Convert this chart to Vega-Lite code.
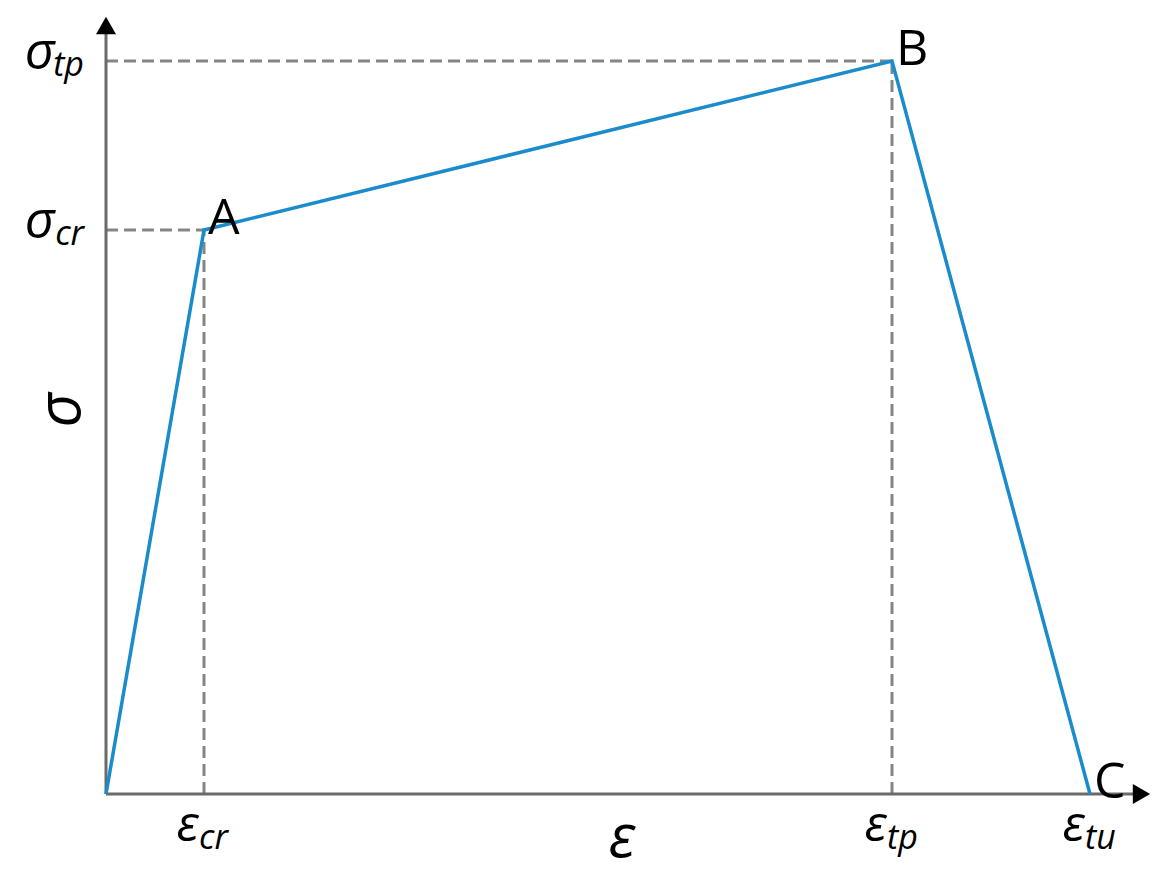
{
  "$schema": "https://vega.github.io/schema/vega-lite/v6.json",
  "autosize": {"type": "none"},
  "width": 1044,
  "height": 777,
  "padding": {"left": 106, "top": 17, "right": 12, "bottom": 83},
  "background": "white",
  "config": {"view": {"stroke": null}},
  "datasets": {
    "curve": [
      {"x": 0, "y": 0, "order": 0},
      {"x": 98, "y": 564, "order": 1},
      {"x": 786, "y": 733, "order": 2},
      {"x": 984, "y": 0, "order": 3}
    ],
    "guides": [
      {"x": 0, "x2": 98, "y": 564, "y2": 564},
      {"x": 98, "x2": 98, "y": 0, "y2": 564},
      {"x": 0, "x2": 786, "y": 733, "y2": 733},
      {"x": 786, "x2": 786, "y": 0, "y2": 733}
    ],
    "axes": [
      {"x": 0, "x2": 1032, "y": 0, "y2": 0},
      {"x": 0, "x2": 0, "y": 0, "y2": 760}
    ],
    "arrows": [
      {"x": 1035.5, "y": 0, "shape": "triangle-right"},
      {"x": 0, "y": 768.5, "shape": "triangle-up"}
    ],
    "points": [
      {"x": 98, "y": 564, "name": "A"},
      {"x": 786, "y": 733, "name": "B"},
      {"x": 984, "y": 0, "name": "C"}
    ],
    "yticks": [
      {"x": 0, "y": 733, "main": "σ", "sub": "tp"},
      {"x": 0, "y": 564, "main": "σ", "sub": "cr"}
    ],
    "xticks": [
      {"x": 98, "y": 0, "main": "ε", "sub": "cr"},
      {"x": 786, "y": 0, "main": "ε", "sub": "tp"},
      {"x": 984, "y": 0, "main": "ε", "sub": "tu"}
    ],
    "titles": [
      {"x": -44, "y": 384, "text": "σ", "angle": 270},
      {"x": 516, "y": -45, "text": "ε", "angle": 0}
    ]
  },
  "encoding": {
    "x": {"field": "x", "type": "quantitative", "scale": {"domain": [0, 1044], "nice": false, "zero": false}, "axis": null},
    "y": {"field": "y", "type": "quantitative", "scale": {"domain": [0, 777], "nice": false, "zero": false}, "axis": null}
  },
  "layer": [
    {
      "data": {"name": "guides"},
      "mark": {"type": "rule", "color": "#858585", "strokeWidth": 3, "strokeDash": [12, 6], "clip": false},
      "encoding": {"x2": {"field": "x2"}, "y2": {"field": "y2"}}
    },
    {
      "data": {"name": "axes"},
      "mark": {"type": "rule", "color": "#6a6a6a", "strokeWidth": 3, "clip": false},
      "encoding": {"x2": {"field": "x2"}, "y2": {"field": "y2"}}
    },
    {
      "data": {"name": "curve"},
      "mark": {"type": "line", "color": "#1a8bcb", "strokeWidth": 3.5, "strokeJoin": "miter", "clip": false},
      "encoding": {"order": {"field": "order"}}
    },
    {
      "data": {"name": "arrows"},
      "mark": {"type": "point", "filled": true, "color": "#000000", "size": 400, "opacity": 1, "clip": false},
      "encoding": {"shape": {"field": "shape", "type": "nominal", "scale": null, "legend": null}}
    },
    {
      "data": {"name": "points"},
      "mark": {"type": "text", "font": "Open Sans", "fontSize": 50, "align": "left", "baseline": "alphabetic", "dx": 4, "dy": 4, "color": "#000000"},
      "encoding": {"text": {"field": "name"}}
    },
    {
      "data": {"name": "yticks"},
      "mark": {"type": "text", "font": "Open Sans", "fontSize": 52, "fontStyle": "italic", "align": "right", "baseline": "alphabetic", "dx": -51, "dy": 8, "color": "#000000"},
      "encoding": {"text": {"field": "main"}}
    },
    {
      "data": {"name": "yticks"},
      "mark": {"type": "text", "font": "Open Sans", "fontSize": 34, "fontStyle": "italic", "align": "right", "baseline": "alphabetic", "dx": -22, "dy": 15, "color": "#000000"},
      "encoding": {"text": {"field": "sub"}}
    },
    {
      "data": {"name": "xticks"},
      "mark": {"type": "text", "font": "Open Sans", "fontSize": 50, "fontStyle": "italic", "align": "right", "baseline": "alphabetic", "dx": -5, "dy": 47, "color": "#000000"},
      "encoding": {"text": {"field": "main"}}
    },
    {
      "data": {"name": "xticks"},
      "mark": {"type": "text", "font": "Open Sans", "fontSize": 34, "fontStyle": "italic", "align": "left", "baseline": "alphabetic", "dx": -5, "dy": 55, "color": "#000000"},
      "encoding": {"text": {"field": "sub"}}
    },
    {
      "data": {"name": "titles"},
      "mark": {"type": "text", "font": "Open Sans", "fontSize": 60, "fontStyle": "italic", "align": "center", "baseline": "middle", "color": "#000000"},
      "encoding": {"text": {"field": "text"}, "angle": {"field": "angle", "type": "quantitative", "scale": null}}
    }
  ]
}
